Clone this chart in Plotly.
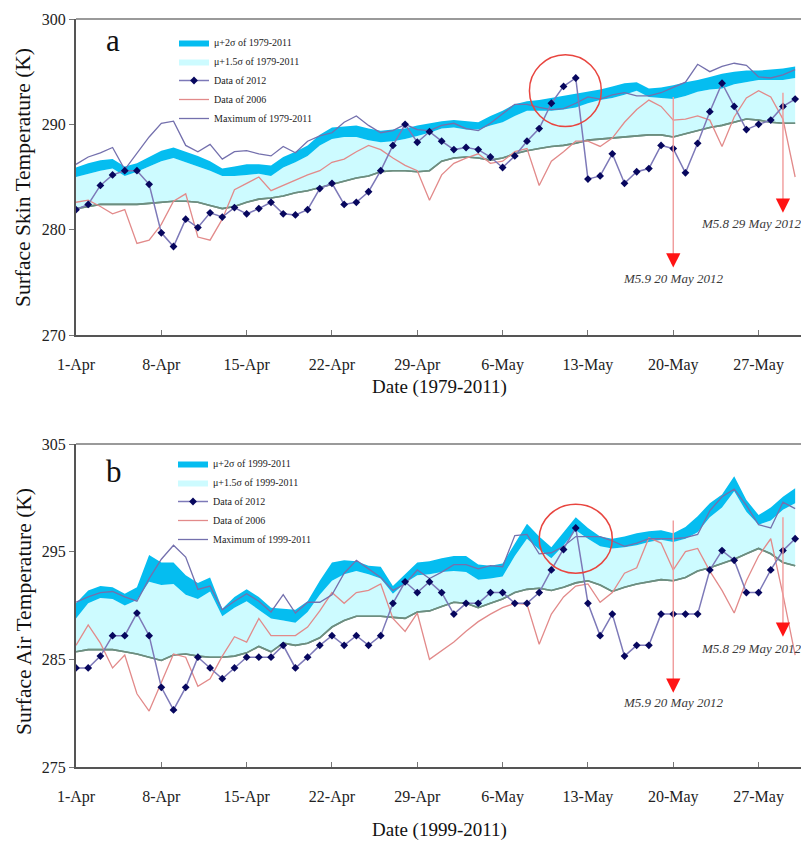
import pandas as pd
import plotly.graph_objects as go

# ---------------------------------------------------------------- data
dates = pd.date_range("2012-04-01", periods=60, freq="D")
week_ticks = pd.date_range("2012-04-01", periods=9, freq="7D")

# (a) Surface skin temperature, K
skin_2sigma = [285.9, 286.3, 286.6, 286.7, 286.0, 286.3, 286.9, 287.5, 287.8, 287.4,
               287.0, 286.5, 285.8, 286.0, 286.2, 286.2, 286.1, 286.9, 287.4, 288.0,
               289.0, 289.7, 289.8, 289.9, 289.6, 289.4, 289.5, 289.6, 289.9, 290.1,
               290.3, 290.4, 290.3, 290.2, 290.8, 291.3, 291.9, 292.2, 292.3, 292.5,
               292.7, 292.9, 293.1, 293.3, 293.6, 293.9, 294.0, 293.4, 293.5, 293.7,
               294.0, 294.2, 294.5, 294.8, 295.0, 295.1, 295.1, 295.2, 295.3, 295.5]
skin_15sigma = [285.0, 285.3, 285.6, 285.8, 285.1, 285.5, 286.0, 286.5, 286.8, 286.4,
                286.0, 285.6, 285.1, 285.1, 285.2, 285.3, 285.1, 285.9, 286.4, 287.0,
                288.0, 288.6, 288.8, 288.8, 288.5, 288.3, 288.4, 288.6, 288.9, 289.2,
                289.6, 289.7, 289.5, 289.5, 289.9, 290.2, 290.8, 291.3, 291.3, 291.3,
                291.4, 291.6, 292.0, 292.3, 292.5, 292.8, 293.2, 292.6, 292.5, 292.4,
                292.7, 293.1, 293.3, 293.4, 293.8, 294.0, 294.2, 294.2, 294.2, 294.4]
skin_base = [282.0, 282.2, 282.4, 282.4, 282.4, 282.4, 282.5, 282.6, 282.7, 282.7,
             282.6, 282.3, 282.0, 282.2, 282.6, 282.9, 283.0, 283.2, 283.5, 283.7,
             284.0, 284.3, 284.6, 284.9, 285.1, 285.5, 285.6, 285.6, 285.5, 285.6,
             286.5, 286.8, 286.9, 286.8, 286.6, 286.8, 287.2, 287.5, 287.7, 287.9,
             288.0, 288.2, 288.5, 288.6, 288.7, 288.8, 288.9, 289.0, 289.0, 288.8,
             289.1, 289.4, 289.7, 289.9, 290.2, 290.5, 290.4, 290.2, 290.1, 290.1]
skin_2012 = [281.9, 282.4, 284.2, 285.2, 285.6, 285.6, 284.3, 279.7, 278.4, 281.0,
             280.2, 281.6, 281.2, 282.1, 281.5, 282.0, 282.6, 281.5, 281.4, 281.9,
             283.9, 284.4, 282.4, 282.6, 283.6, 285.6, 288.0, 290.0, 288.3, 289.3,
             288.4, 287.6, 287.8, 287.6, 286.9, 285.9, 287.0, 288.4, 289.6, 292.0,
             293.6, 294.4, 284.8, 285.1, 287.2, 284.4, 285.5, 285.8, 288.0, 287.7,
             285.4, 288.2, 291.2, 293.9, 291.7, 289.5, 290.0, 290.4, 291.7, 292.4]
skin_2006 = [282.6, 282.8, 282.2, 281.5, 281.9, 278.7, 279.0, 280.5, 282.7, 283.4,
             279.3, 279.0, 281.0, 283.8, 284.4, 285.0, 283.7, 284.2, 284.7, 285.2,
             285.6, 286.4, 286.7, 287.4, 288.0, 287.6, 286.8, 286.1, 285.6, 282.8,
             285.2, 286.3, 286.8, 287.2, 286.3, 286.5, 287.4, 287.7, 284.2, 286.5,
             287.4, 288.4, 288.4, 287.9, 288.7, 290.2, 291.4, 292.3, 291.7, 290.4,
             290.5, 290.8, 290.4, 287.9, 290.7, 292.5, 293.2, 292.6, 290.5, 285.0]
skin_max = [286.2, 286.9, 287.3, 287.8, 285.7, 287.3, 288.8, 290.1, 290.3, 288.0,
            287.4, 288.1, 286.7, 287.4, 287.5, 287.2, 287.0, 287.9, 287.3, 288.4,
            288.9, 289.2, 290.2, 290.8, 289.9, 289.2, 289.4, 290.0, 289.5, 289.4,
            289.9, 290.1, 289.6, 289.4, 290.1, 291.0, 291.9, 291.9, 291.6, 291.4,
            291.5, 292.0, 292.6, 292.4, 292.8, 293.0, 292.7, 292.7, 293.0, 293.5,
            294.0, 295.7, 295.0, 295.5, 295.8, 295.6, 294.5, 294.4, 294.7, 295.2]

# (b) Surface air temperature, K
air_2sigma = [290.2, 291.4, 291.8, 291.7, 291.1, 291.7, 294.7, 294.0, 294.0, 292.8,
              292.1, 292.6, 289.7, 290.8, 291.5, 290.8, 289.8, 289.7, 289.6, 290.4,
              292.3, 294.0, 294.2, 294.1, 293.7, 293.6, 291.8, 292.9, 294.0, 294.1,
              294.4, 294.6, 294.6, 293.8, 293.7, 293.9, 295.8, 297.6, 296.4, 295.4,
              296.8, 298.2, 297.2, 296.4, 296.2, 296.4, 296.7, 296.9, 297.0, 296.7,
              297.3, 298.3, 299.5, 300.3, 302.0, 299.8, 298.4, 299.1, 300.1, 300.9]
air_15sigma = [288.8, 290.2, 290.7, 290.6, 290.0, 290.5, 292.2, 291.9, 292.0, 291.0,
               290.6, 291.3, 289.0, 289.8, 290.4, 289.6, 288.8, 288.6, 288.4, 289.4,
               291.0, 292.3, 292.9, 293.2, 292.9, 292.5, 291.1, 292.1, 292.8, 292.9,
               293.1, 293.2, 293.1, 292.4, 292.5, 292.7, 294.6, 296.2, 295.2, 294.4,
               295.6, 297.0, 296.2, 295.5, 295.3, 295.4, 295.6, 295.9, 296.1, 295.9,
               296.2, 296.8, 298.2, 299.1, 300.6, 298.7, 297.5, 297.9, 298.9, 299.5]
air_base = [285.7, 285.9, 285.9, 285.9, 285.7, 285.5, 285.2, 284.9, 285.4, 285.5,
            285.3, 285.2, 285.2, 285.3, 285.6, 286.2, 285.7, 286.5, 286.3, 286.5,
            287.0, 288.0, 288.6, 289.0, 289.0, 289.0, 288.9, 288.8, 289.4, 289.5,
            289.9, 290.3, 290.2, 289.8, 290.2, 290.6, 291.2, 291.5, 291.6, 291.4,
            291.7, 292.1, 292.3, 291.9, 291.3, 291.7, 292.0, 292.2, 292.4, 292.3,
            292.6, 293.2, 293.5, 293.9, 294.3, 294.8, 295.3, 294.8, 294.0, 293.7]
air_2012 = [284.2, 284.2, 285.3, 287.2, 287.2, 289.3, 287.2, 282.4, 280.3, 282.4,
            285.2, 284.2, 283.2, 284.2, 285.2, 285.2, 285.2, 286.3, 284.2, 285.2,
            286.3, 287.2, 286.3, 287.2, 286.3, 287.2, 290.2, 292.2, 291.2, 292.2,
            291.2, 289.2, 290.2, 290.2, 291.2, 291.2, 290.2, 290.2, 291.2, 293.3,
            295.2, 297.2, 290.2, 287.2, 289.2, 285.3, 286.3, 286.3, 289.2, 289.2,
            289.2, 289.2, 293.3, 295.1, 294.2, 291.2, 291.2, 293.3, 295.1, 296.2]
air_2006 = [286.3, 288.2, 286.5, 284.2, 285.4, 281.8, 280.2, 282.8, 285.5, 285.2,
            282.5, 283.2, 285.3, 287.1, 286.6, 288.8, 287.2, 287.2, 287.2, 288.0,
            289.5, 291.2, 290.2, 291.2, 291.4, 292.0, 288.8, 287.6, 289.3, 285.0,
            285.8, 286.6, 287.6, 288.5, 289.2, 289.8, 290.2, 290.1, 286.4, 289.2,
            290.8, 291.8, 292.0, 290.3, 291.2, 293.0, 293.5, 296.3, 295.8, 293.3,
            295.0, 295.3, 293.2, 291.4, 289.3, 292.3, 294.6, 296.2, 291.0, 285.4]
air_max = [290.3, 290.8, 291.2, 291.3, 290.8, 290.4, 292.5, 294.3, 295.6, 294.5,
           291.5, 291.8, 289.6, 290.4, 291.1, 290.4, 289.4, 291.0, 289.3, 290.3,
           290.3, 291.0, 293.0, 294.2, 293.4, 292.6, 291.4, 292.0, 293.3, 292.5,
           293.1, 293.8, 293.8, 293.4, 293.7, 293.6, 296.5, 296.6, 294.8, 294.9,
           295.5, 296.4, 296.4, 296.4, 296.0, 295.5, 295.8, 296.2, 296.2, 296.2,
           296.3, 296.6, 298.8, 300.1, 300.8, 299.3, 297.5, 297.2, 299.6, 299.0]

# earthquakes
quake_dates = ["2012-05-20", "2012-05-29"]
quake_labels = ["M5.9 20 May 2012", "M5.8 29 May 2012"]

# ---------------------------------------------------------------- style
SERIF = "Liberation Serif"
C_2SIG = "#05bdf0"
C_15SIG = "#cdfbff"
C_BASE = "#6d8e80"
C_2012_LINE = "#7d79b8"
C_2012_MARK = "#07075e"
C_2006 = "#e28a8a"
C_MAX = "#7470ad"

W, H = 801, 843
ML, MR, MT, MB = 76, 0, 19, 76
PW, PH = W - ML - MR, H - MT - MB


def px(x, y):
    """page pixel -> paper coordinates"""
    return (x - ML) / PW, (H - MB - y) / PH


def day(d):
    return pd.Timestamp("2012-04-01") + pd.Timedelta(days=d)


fig = go.Figure()


def add_panel(xa, ya, leg, period, s2, s15, base, d2012, d2006, dmax):
    kw = dict(x=dates, xaxis=xa, yaxis=ya, legend=leg, hoverinfo="skip")
    fig.add_trace(go.Scatter(y=base, mode="lines", line=dict(color=C_BASE, width=1.6),
                             showlegend=False, **kw))
    fig.add_trace(go.Scatter(y=s15, mode="lines", line=dict(width=0, color=C_15SIG),
                             fill="tonexty", fillcolor=C_15SIG,
                             name=f"μ+1.5σ of {period}", legendrank=2, **kw))
    fig.add_trace(go.Scatter(y=s2, mode="lines", line=dict(width=0, color=C_2SIG),
                             fill="tonexty", fillcolor=C_2SIG,
                             name=f"μ+2σ of {period}", legendrank=1, **kw))
    fig.add_trace(go.Scatter(y=base, mode="lines", line=dict(color=C_BASE, width=1.6),
                             showlegend=False, **kw))
    fig.add_trace(go.Scatter(y=d2006, mode="lines", line=dict(color=C_2006, width=1.3),
                             name="Data of 2006", legendrank=4, **kw))
    fig.add_trace(go.Scatter(y=dmax, mode="lines", line=dict(color=C_MAX, width=1.3),
                             name=f"Maximum of {period}", legendrank=5, **kw))
    fig.add_trace(go.Scatter(y=d2012, mode="lines+markers",
                             line=dict(color=C_2012_LINE, width=1.5),
                             marker=dict(symbol="diamond", size=6, color=C_2012_MARK),
                             name="Data of 2012", legendrank=3, **kw))


add_panel("x", "y", "legend", "1979-2011", skin_2sigma, skin_15sigma, skin_base,
          skin_2012, skin_2006, skin_max)
add_panel("x2", "y2", "legend2", "1999-2011", air_2sigma, air_15sigma, air_base,
          air_2012, air_2006, air_max)

dom_a = [px(0, 335)[1], px(0, 19)[1]]
dom_b = [0, px(0, 444)[1]]

xcommon = dict(range=[dates[0], day(59.48)], tickvals=week_ticks, tickformat="%-d-%b",
               ticks="inside", ticklen=5, tickcolor="#777", tickwidth=1,
               showline=True, linecolor="#555", linewidth=2, showgrid=False,
               zeroline=False, tickfont=dict(family=SERIF, size=16, color="#222"),
               ticklabelstandoff=14, domain=[0, 1], fixedrange=True)
ycommon = dict(ticks="outside", ticklen=5, tickcolor="#777", showline=True,
               linecolor="#555", linewidth=2, showgrid=False, zeroline=False,
               tickfont=dict(family=SERIF, size=16, color="#222"), fixedrange=True)

legcommon = dict(bgcolor="rgba(0,0,0,0)", font=dict(family=SERIF, size=10, color="#222"),
                 xanchor="left", yanchor="top", itemwidth=30, traceorder="normal")

fig.update_layout(
    width=W, height=H, margin=dict(l=ML, r=MR, t=MT, b=MB),
    paper_bgcolor="white", plot_bgcolor="white",
    xaxis=dict(anchor="y", **xcommon),
    yaxis=dict(anchor="x", domain=dom_a, range=[270, 300], tickvals=[270, 280, 290, 300], **ycommon),
    xaxis2=dict(anchor="y2", **xcommon),
    yaxis2=dict(anchor="x2", domain=dom_b, range=[275, 305], tickvals=[275, 285, 295, 305], **ycommon),
    legend=dict(x=px(174, 0)[0], y=px(0, 28)[1], **legcommon),
    legend2=dict(x=px(173, 0)[0], y=px(0, 449)[1], **legcommon),
)

shapes = []
annotations = []

# top frame lines
for ya, xa in (("y", "x"), ("y2", "x2")):
    shapes.append(dict(type="line", xref=f"{xa} domain", yref=f"{ya} domain",
                       x0=0, x1=1, y0=1, y1=1, line=dict(color="#9a9a9a", width=2)))

# highlight circles around the 2012 peak
shapes.append(dict(type="circle", xref="x", yref="y", x0=day(37.2), x1=day(43.1),
                   y0=289.8, y1=296.6, line=dict(color="#e8453f", width=1.5)))
shapes.append(dict(type="circle", xref="x2", yref="y2", x0=day(38.0), x1=day(44.0),
                   y0=293.0, y1=299.4, line=dict(color="#e8453f", width=1.5)))

# earthquake markers: (axis suffix, top, tip, label y, label x shift)
quake_marks = [
    ("", [(292.6, 276.4, 275.4, 0), (293.0, 281.6, 280.6, -32)]),
    ("2", [(297.9, 281.9, 281.0, 0), (298.2, 287.1, 286.0, -32)]),
]
for sfx, marks in quake_marks:
    for qd, ql, (top, tip, ly, shift) in zip(quake_dates, quake_labels, marks):
        shapes.append(dict(type="line", xref="x" + sfx, yref="y" + sfx, x0=qd, x1=qd,
                           y0=top, y1=tip + 0.8, line=dict(color="#f09a9a", width=1.4)))
        annotations.append(dict(xref="x" + sfx, yref="y" + sfx, x=qd, y=tip, ax=0, ay=-13,
                                showarrow=True, arrowhead=2, arrowsize=0.95, arrowwidth=3,
                                arrowcolor="#ff1414", text=""))
        annotations.append(dict(xref="x" + sfx, yref="y" + sfx, x=qd, y=ly, xshift=shift,
                                showarrow=False, text=f"<i>{ql}</i>", yanchor="middle",
                                font=dict(family=SERIF, size=13, color="#3a3a3a")))

# panel letters
for letter, (lx, ly) in (("a", (113, 40)), ("b", (114, 471))):
    x, y = px(lx, ly)
    annotations.append(dict(xref="paper", yref="paper", x=x, y=y, text=letter,
                            xanchor="center", yanchor="middle",
                            showarrow=False, font=dict(family=SERIF, size=31, color="#111")))

# axis titles
for text, (tx, ty), angle, size in (("Surface Skin Temperature (K)", (23, 178), -90, 21.5),
                                    ("Surface Air Temperature (K)", (24, 612), -90, 21.5),
                                    ("Date (1979-2011)", (440, 387), 0, 19),
                                    ("Date (1999-2011)", (440, 830), 0, 19)):
    x, y = px(tx, ty)
    annotations.append(dict(xref="paper", yref="paper", x=x, y=y, text=text,
                            textangle=angle, showarrow=False,
                            xanchor="center", yanchor="middle",
                            font=dict(family=SERIF, size=size, color="#111")))

fig.update_layout(shapes=shapes, annotations=annotations)

fig.write_html("out.html")
